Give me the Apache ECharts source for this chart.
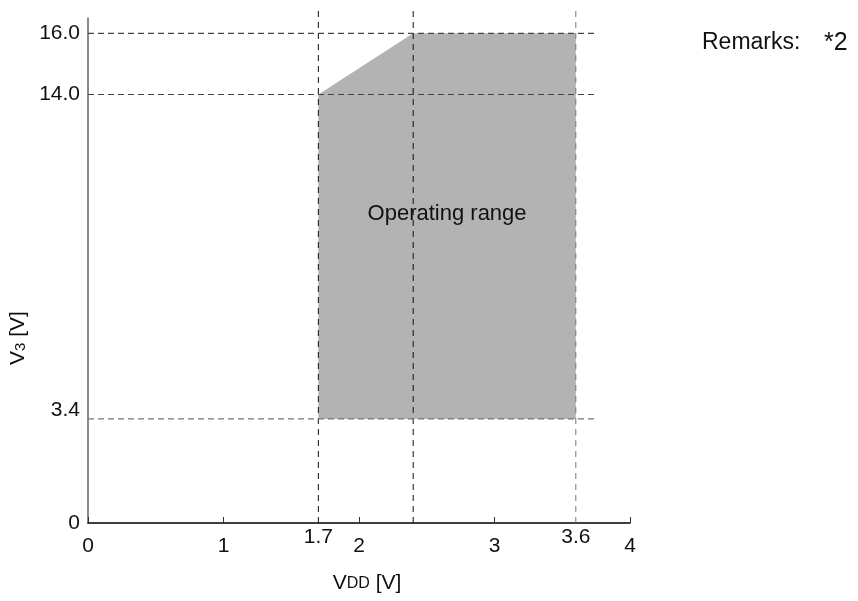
<!DOCTYPE html>
<html>
<head>
<meta charset="utf-8">
<title>Operating range</title>
<script src="https://cdn.jsdelivr.net/npm/echarts@6/dist/echarts.min.js"></script>
<style>
  html, body { margin: 0; padding: 0; background: #fff; }
  #main { width: 858px; height: 601px; }
</style>
</head>
<body>
<div id="main"></div>
<script>
// data
var vddTicks = [0, 1, 2, 3, 4];
var v3Ticks = [0, 3.4, 14, 16];
var guideVdd = [1.7, 2.4, 3.6];       // vertical dashed lines
var guideV3 = [16, 14, 3.4];          // horizontal dashed lines
var labeledVdd = [1.7, 3.6];          // extra labels under the x axis
var rangeVdd = [1.7, 1.7, 2.4, 3.6, 3.6];
var rangeV3 = [3.4, 14, 16, 16, 3.4];

var FONT = 'Liberation Sans, Arial, sans-serif';
var guideTop = 16.8;   // how far the vertical guides run
var guideRight = 3.75; // how far the horizontal guides run
var vColors = ['#111', '#111', '#777'];
var hColors = ['#444', '#444', '#777'];

var myChart = echarts.init(document.getElementById('main'));

var series = [];

// shaded operating area
series.push({
    type: 'custom',
    coordinateSystem: 'cartesian2d',
    clip: false,
    z: 1,
    data: [[rangeVdd[0], rangeV3[0]]],
    renderItem: function (params, api) {
        var pts = rangeVdd.map(function (x, i) {
            return api.coord([x, rangeV3[i]]);
        });
        return {
            type: 'polygon',
            shape: { points: pts },
            style: { fill: '#b3b3b3' },
            textContent: {
                style: { text: 'Operating range', fontSize: 22, fontFamily: FONT, fill: '#111' }
            },
            textConfig: { position: 'inside', offset: [0, -12] }
        };
    }
});

// vertical guides
guideVdd.forEach(function (x, i) {
    series.push({
        type: 'line',
        clip: false,
        z: 3,
        symbol: 'none',
        silent: true,
        lineStyle: { color: vColors[i], width: 1, type: [6, 5] },
        data: [[x, 0], [x, guideTop]]
    });
});

// horizontal guides
guideV3.forEach(function (y, i) {
    series.push({
        type: 'line',
        clip: false,
        z: 3,
        symbol: 'none',
        silent: true,
        lineStyle: { color: hColors[i], width: 1.2, type: [6, 4] },
        data: [[0, y], [guideRight, y]]
    });
});

// 1.7 / 3.6 labels under the axis
series.push({
    type: 'custom',
    coordinateSystem: 'cartesian2d',
    clip: false,
    z: 4,
    data: labeledVdd.map(function (x) { return [x, 0]; }),
    renderItem: function (params, api) {
        var p = api.coord([api.value(0), api.value(1)]);
        return {
            type: 'text',
            x: p[0],
            y: p[1] + 4,
            style: {
                text: api.value(0).toFixed(1),
                align: 'center',
                verticalAlign: 'top',
                fontFamily: FONT,
                fontSize: 21,
                fill: '#111'
            }
        };
    }
});

option = {
    animation: false,
    backgroundColor: '#fff',
    grid: { left: 88, top: 18, right: 228, bottom: 78 },
    xAxis: {
        type: 'value',
        min: vddTicks[0],
        max: vddTicks[vddTicks.length - 1],
        interval: 1,
        name: '{v|V}{s|DD} [V]',
        nameLocation: 'middle',
        nameGap: 50,
        nameTextStyle: {
            fontFamily: FONT, fontSize: 21, color: '#111', padding: [0, 0, 0, 16],
            rich: {
                v: { fontFamily: FONT, fontSize: 21, color: '#111' },
                s: { fontFamily: FONT, fontSize: 16, color: '#111' }
            }
        },
        axisLine: { lineStyle: { color: '#000', width: 1.5 } },
        axisTick: { inside: true, length: 6, lineStyle: { color: '#333' } },
        axisLabel: { fontFamily: FONT, fontSize: 21, color: '#111', margin: 13 },
        splitLine: { show: false }
    },
    yAxis: {
        type: 'value',
        min: 0,
        max: 16.5,
        axisLine: { show: true, lineStyle: { color: '#666', width: 1.5 } },
        axisTick: { show: false },
        splitLine: { show: false },
        axisLabel: {
            customValues: v3Ticks,
            fontFamily: FONT,
            fontSize: 21,
            color: '#111',
            margin: 8,
            formatter: function (v) {
                if (v === 0) return '0';
                if (v === 3.4) return '{up|' + v.toFixed(1) + '}';
                return v.toFixed(1);
            },
            rich: {
                up: { fontFamily: FONT, fontSize: 21, color: '#111', padding: [0, 0, 18, 0] }
            }
        }
    },
    graphic: [
        {
            type: 'text',
            x: 702,
            y: 43,
            style: {
                text: 'Remarks:', fontFamily: FONT, fontSize: 23, fill: '#111',
                verticalAlign: 'middle'
            }
        },
        {
            type: 'text',
            x: 824,
            y: 43,
            style: {
                text: '*2', fontFamily: FONT, fontSize: 25, fill: '#111',
                verticalAlign: 'middle'
            }
        },
        {
            type: 'text',
            x: 18,
            y: 338,
            rotation: Math.PI / 2,
            style: {
                text: '{v|V}{s|3} [V]',
                align: 'center',
                verticalAlign: 'middle',
                fontFamily: FONT,
                fontSize: 21,
                fill: '#111',
                rich: {
                    v: { fontFamily: FONT, fontSize: 21, fill: '#111' },
                    s: { fontFamily: FONT, fontSize: 15, fill: '#111', padding: [6, 0, 0, 0] }
                }
            }
        }
    ],
    series: series
};

myChart.setOption(option);
</script>
</body>
</html>
